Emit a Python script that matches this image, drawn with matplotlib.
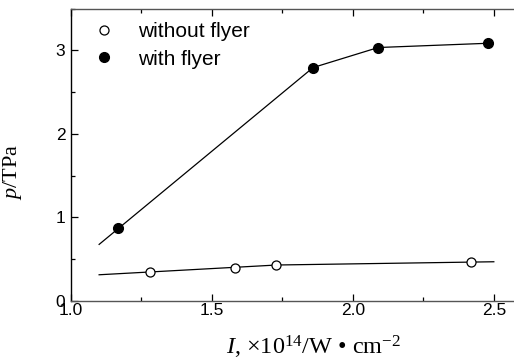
import matplotlib
matplotlib.use("Agg")
import matplotlib.pyplot as plt
from matplotlib.ticker import MultipleLocator, FormatStrFormatter

# data
x_without = [1.281, 1.582, 1.729, 2.42]
y_without = [0.347, 0.395, 0.428, 0.464]
fit_without_x = [1.10, 1.73, 2.50]
fit_without_y = [0.311, 0.428, 0.467]

x_with = [1.168, 1.859, 2.090, 2.480]
y_with = [0.874, 2.795, 3.035, 3.086]
fit_with_x = [1.10, 1.859, 2.090, 2.480]
fit_with_y = [0.675, 2.795, 3.035, 3.086]

plt.rcParams['font.family'] = ['Liberation Sans', 'DejaVu Sans']
plt.rcParams['mathtext.fontset'] = 'custom'
plt.rcParams['mathtext.rm'] = 'Liberation Serif'
plt.rcParams['mathtext.it'] = 'Liberation Serif:italic'

fig = plt.figure(figsize=(5.14, 3.62), dpi=100)
ax = fig.add_axes([0.138, 0.1693, 0.8776, 0.8066])

ax.plot(fit_with_x, fit_with_y, color='black', lw=0.9)
ax.plot(fit_without_x, fit_without_y, color='black', lw=0.9)
ax.plot(x_without, y_without, 'o', mfc='white', mec='black', mew=0.9, ms=6.5,
        linestyle='none', label='without flyer')
ax.plot(x_with, y_with, 'o', mfc='black', mec='black', ms=7,
        linestyle='none', label='with flyer')

ax.set_xlim(1.0, 2.6)
ax.set_ylim(0, 3.5)
ax.xaxis.set_major_locator(MultipleLocator(0.5))
ax.xaxis.set_minor_locator(MultipleLocator(0.25))
ax.yaxis.set_major_locator(MultipleLocator(1))
ax.yaxis.set_minor_locator(MultipleLocator(0.5))
ax.xaxis.set_major_formatter(FormatStrFormatter('%.1f'))
ax.tick_params(which='both', direction='in', top=True, right=True,
               labelsize=12.5, colors='black')
ax.tick_params(which='major', length=5, width=0.9)
ax.tick_params(which='minor', length=3, width=0.9)
ax.tick_params(axis='x', pad=2)
ax.tick_params(axis='y', pad=4)
for s in ax.spines.values():
    s.set_color('#555555')
    s.set_linewidth(1.0)
ax.spines['left'].set_color('black')

ax.set_ylabel(r'$p$/TPa', fontsize=16, family='Liberation Serif')
ax.yaxis.set_label_coords(-0.105, 0.44)
ax.set_xlabel(r'$I$, ×10$^{14}$/W • cm$^{-2}$', fontsize=17.5, family='Liberation Serif')
ax.xaxis.set_label_coords(0.539, -0.115)

ax.legend(loc='upper left', frameon=False, fontsize=15, handlelength=1.0,
          handletextpad=1.1, borderaxespad=0, borderpad=0, labelspacing=0.42,
          bbox_to_anchor=(0.051, 0.955))

fig.savefig('out.png', dpi=100)
